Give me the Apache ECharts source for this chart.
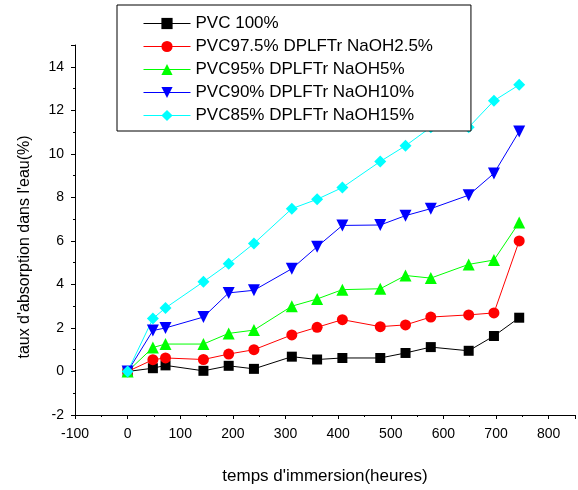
<!DOCTYPE html>
<html>
<head>
<meta charset="utf-8">
<script src="https://cdn.jsdelivr.net/npm/echarts@6/dist/echarts.min.js"></script>
<style>html,body{margin:0;padding:0;background:#fff}#c{width:578px;height:490px}</style>
</head>
<body>
<div id="c"></div>
<script>
var hours = [0, 48, 72, 144, 192, 240, 312, 360, 408, 480, 528, 576, 648, 696, 744];
var pvc100 = [0, 0.15, 0.28, 0.03, 0.26, 0.12, 0.68, 0.55, 0.62, 0.62, 0.85, 1.12, 0.95, 1.63, 2.47];
var pvc975 = [0, 0.54, 0.62, 0.55, 0.80, 1.0, 1.68, 2.03, 2.38, 2.06, 2.14, 2.5, 2.6, 2.69, 6.0];
var pvc95 = [0, 1.1, 1.26, 1.26, 1.75, 1.9, 3.0, 3.33, 3.76, 3.8, 4.41, 4.29, 4.92, 5.12, 6.85];
var pvc90 = [0, 1.88, 2.0, 2.5, 3.61, 3.73, 4.72, 5.73, 6.71, 6.73, 7.16, 7.48, 8.1, 9.1, 11.03];
var pvc85 = [0, 2.43, 2.92, 4.12, 4.95, 5.88, 7.48, 7.91, 8.45, 9.65, 10.37, 11.22, 11.22, 12.44, 13.17];
var seriesNames = ['PVC 100%', 'PVC97.5% DPLFTr NaOH2.5%', 'PVC95% DPLFTr NaOH5%', 'PVC90% DPLFTr NaOH10%', 'PVC85% DPLFTr NaOH15%'];
var xTitle = "temps d'immersion(heures)";
var yTitle = "taux d'absorption dans l'eau(%)";

var FONT = 'Liberation Sans, Arial, sans-serif';
function pairs(ys){ return hours.map(function(h,i){ return [h, ys[i]]; }); }
var colors = ['#000000', '#ff0000', '#00ff00', '#0000ff', '#00ffff'];
var symbols = ['rect', 'circle', 'triangle', 'path://M0,0 L10,0 L5,9 Z', 'diamond'];
var sizes = [10, 11, 12, 12, 12];
var datas = [pvc100, pvc975, pvc95, pvc90, pvc85];

var series = datas.map(function(d, i){
  return {
    name: seriesNames[i], type: 'line', data: pairs(d),
    symbol: symbols[i], symbolSize: sizes[i], showAllSymbol: true,
    lineStyle: {color: colors[i], width: 1},
    itemStyle: {color: colors[i], borderWidth: 0},
    emphasis: {disabled: true}, animation: false
  };
});

var chart = echarts.init(document.getElementById('c'));
chart.setOption({
  animation: false,
  grid: {left: 75, right: 3, top: 45, bottom: 75},
  legend: {
    orient: 'vertical', left: 117, top: 5,
    padding: [10, 38, 7, 26],
    itemWidth: 47, itemHeight: 14, itemGap: 6,
    backgroundColor: '#ffffff', borderColor: '#000', borderWidth: 1,
    lineStyle: {width: 1},
    textStyle: {fontFamily: FONT, fontSize: 17, color: '#000', padding: [0,0,0,0]},
    data: seriesNames
  },
  xAxis: {
    type: 'value', min: -100, max: 850, interval: 100,
    name: xTitle, nameLocation: 'middle', nameGap: 53,
    nameTextStyle: {fontFamily: FONT, fontSize: 17, color: '#000'},
    axisLine: {show: true, onZero: false, lineStyle: {color: '#000', width: 1}},
    axisTick: {show: true, length: 4, lineStyle: {color: '#000'}},
    minorTick: {show: true, splitNumber: 2, length: 2, lineStyle: {color: '#000'}},
    splitLine: {show: false},
    axisLabel: {fontFamily: FONT, fontSize: 14, color: '#000', margin: 12,
      formatter: function(v){ return v > 800 ? '' : String(v); }}
  },
  yAxis: {
    type: 'value', min: -2, max: 15, interval: 2,
    axisLine: {show: true, onZero: false, lineStyle: {color: '#000', width: 1}},
    axisTick: {show: true, length: 4, lineStyle: {color: '#000'}},
    minorTick: {show: true, splitNumber: 2, length: 2, lineStyle: {color: '#000'}},
    splitLine: {show: false},
    axisLabel: {fontFamily: FONT, fontSize: 14, color: '#000', margin: 11,
      formatter: function(v){ return v > 14 ? '' : String(v); }}
  },
  graphic: [{
    type: 'text', x: 25, y: 247, rotation: Math.PI / 2,
    style: {text: yTitle, fontFamily: FONT, fontSize: 16, fill: '#000', align: 'center', verticalAlign: 'middle'}
  }],
  series: series
});
</script>
</body>
</html>
